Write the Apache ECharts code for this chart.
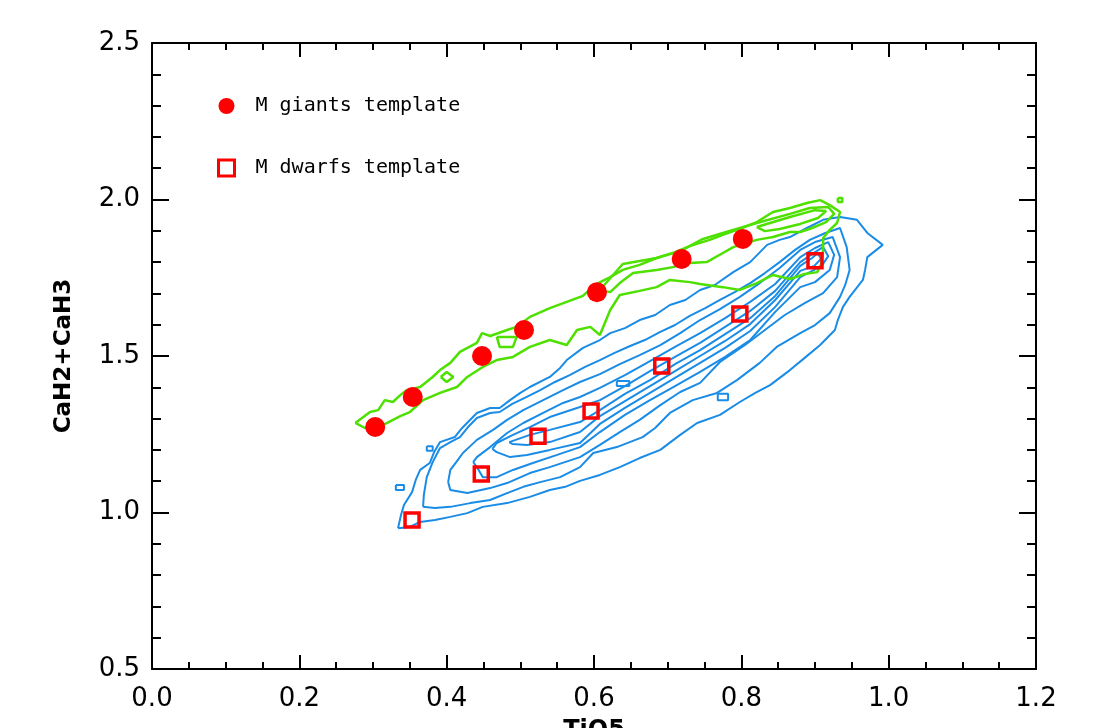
<!DOCTYPE html>
<html>
<head>
<meta charset="utf-8">
<script src="https://cdn.jsdelivr.net/npm/echarts@6/dist/echarts.min.js"></script>
<style>
html,body{margin:0;padding:0;background:#fff;}
#chart{width:1100px;height:728px;}
</style>
</head>
<body>
<div id="chart"></div>
<script>
// ---- tick labels ----
const xTickLabels = ['0.0','0.2','0.4','0.6','0.8','1.0','1.2'];
const yTickLabels = ['0.5','1.0','1.5','2.0','2.5'];

// ---- template points ----
const giantsName = 'M giants template';
const dwarfsName = 'M dwarfs template';
const giantsTiO5 = [0.303, 0.354, 0.448, 0.505, 0.604, 0.719, 0.802];
const giantsCaH  = [1.273, 1.369, 1.500, 1.583, 1.704, 1.810, 1.874];
const dwarfsTiO5 = [0.353, 0.447, 0.524, 0.596, 0.692, 0.798, 0.900];
const dwarfsCaH  = [0.976, 1.123, 1.244, 1.324, 1.468, 1.634, 1.804];

// ---- blue (dwarf) density contours, [TiO5, CaH2+CaH3] ----
const blueLevel1 = [[0.334,0.950],[0.338,0.992],[0.342,1.024],[0.353,1.065],[0.358,1.104],[0.364,1.136],[0.377,1.158],[0.383,1.193],[0.391,1.225],[0.411,1.241],[0.421,1.270],[0.441,1.318],[0.459,1.334],[0.472,1.334],[0.486,1.359],[0.500,1.382],[0.513,1.401],[0.540,1.433],[0.554,1.462],[0.563,1.487],[0.585,1.526],[0.608,1.551],[0.622,1.573],[0.642,1.589],[0.662,1.615],[0.683,1.631],[0.703,1.663],[0.724,1.679],[0.744,1.711],[0.764,1.727],[0.789,1.768],[0.812,1.800],[0.835,1.855],[0.852,1.871],[0.866,1.880],[0.889,1.909],[0.911,1.935],[0.934,1.944],[0.957,1.935],[0.971,1.893],[0.992,1.855],[0.971,1.816],[0.968,1.775],[0.965,1.743],[0.947,1.689],[0.938,1.657],[0.931,1.615],[0.927,1.583],[0.907,1.535],[0.886,1.494],[0.866,1.455],[0.839,1.407],[0.819,1.382],[0.798,1.353],[0.771,1.312],[0.740,1.286],[0.717,1.248],[0.690,1.200],[0.662,1.174],[0.635,1.145],[0.608,1.120],[0.581,1.101],[0.561,1.082],[0.540,1.072],[0.513,1.050],[0.482,1.030],[0.449,1.018],[0.428,0.998],[0.405,0.986],[0.384,0.976],[0.364,0.970],[0.350,0.954],[0.334,0.950]];
const blueLevel2 = [[0.368,1.018],[0.369,1.056],[0.373,1.113],[0.381,1.161],[0.391,1.206],[0.405,1.225],[0.418,1.241],[0.429,1.273],[0.441,1.302],[0.459,1.318],[0.472,1.321],[0.489,1.347],[0.506,1.366],[0.527,1.391],[0.547,1.417],[0.567,1.439],[0.588,1.465],[0.608,1.487],[0.628,1.510],[0.649,1.532],[0.669,1.551],[0.690,1.577],[0.710,1.599],[0.730,1.628],[0.751,1.653],[0.771,1.679],[0.791,1.704],[0.812,1.733],[0.832,1.765],[0.852,1.800],[0.873,1.839],[0.893,1.871],[0.914,1.893],[0.934,1.909],[0.943,1.848],[0.947,1.775],[0.941,1.727],[0.934,1.689],[0.920,1.637],[0.900,1.599],[0.880,1.573],[0.848,1.529],[0.825,1.478],[0.794,1.423],[0.767,1.382],[0.734,1.359],[0.703,1.318],[0.683,1.270],[0.666,1.241],[0.631,1.209],[0.599,1.190],[0.581,1.145],[0.554,1.113],[0.527,1.097],[0.504,1.082],[0.482,1.062],[0.459,1.040],[0.432,1.030],[0.405,1.018],[0.384,1.014],[0.368,1.018]];
const blueLevel3 = [[0.402,1.097],[0.405,1.136],[0.413,1.161],[0.422,1.190],[0.432,1.212],[0.441,1.232],[0.463,1.264],[0.482,1.296],[0.504,1.327],[0.531,1.359],[0.558,1.391],[0.581,1.417],[0.608,1.442],[0.635,1.474],[0.662,1.503],[0.690,1.535],[0.717,1.573],[0.744,1.615],[0.771,1.650],[0.798,1.689],[0.825,1.733],[0.852,1.781],[0.880,1.839],[0.900,1.864],[0.924,1.880],[0.934,1.816],[0.930,1.752],[0.911,1.701],[0.886,1.669],[0.859,1.631],[0.832,1.583],[0.805,1.535],[0.771,1.481],[0.744,1.414],[0.717,1.385],[0.690,1.343],[0.662,1.296],[0.635,1.257],[0.608,1.216],[0.581,1.177],[0.540,1.145],[0.513,1.126],[0.482,1.094],[0.459,1.078],[0.428,1.062],[0.405,1.072],[0.402,1.097]];
const blueLevel4 = [[0.436,1.161],[0.441,1.177],[0.459,1.209],[0.482,1.254],[0.504,1.286],[0.531,1.318],[0.558,1.350],[0.581,1.369],[0.608,1.398],[0.642,1.439],[0.676,1.484],[0.710,1.529],[0.744,1.573],[0.778,1.621],[0.812,1.673],[0.846,1.730],[0.880,1.816],[0.900,1.845],[0.918,1.864],[0.926,1.823],[0.920,1.775],[0.900,1.736],[0.880,1.720],[0.846,1.641],[0.812,1.551],[0.778,1.497],[0.744,1.449],[0.710,1.404],[0.676,1.359],[0.642,1.312],[0.608,1.257],[0.581,1.209],[0.550,1.184],[0.517,1.158],[0.490,1.136],[0.468,1.113],[0.449,1.113],[0.441,1.145],[0.436,1.161]];
const blueLevel5 = [[0.462,1.203],[0.468,1.222],[0.490,1.248],[0.513,1.273],[0.540,1.305],[0.581,1.337],[0.608,1.359],[0.642,1.404],[0.676,1.452],[0.710,1.497],[0.744,1.542],[0.778,1.593],[0.812,1.644],[0.846,1.708],[0.880,1.800],[0.900,1.832],[0.911,1.848],[0.918,1.819],[0.909,1.788],[0.893,1.768],[0.880,1.752],[0.846,1.657],[0.812,1.580],[0.778,1.526],[0.744,1.478],[0.710,1.430],[0.676,1.382],[0.642,1.334],[0.608,1.283],[0.581,1.222],[0.540,1.200],[0.509,1.184],[0.486,1.177],[0.468,1.193],[0.462,1.203]];
const blueLevel6 = [[0.485,1.225],[0.513,1.248],[0.540,1.264],[0.581,1.289],[0.608,1.327],[0.642,1.379],[0.676,1.423],[0.710,1.474],[0.744,1.519],[0.778,1.570],[0.812,1.621],[0.846,1.692],[0.880,1.788],[0.896,1.813],[0.904,1.829],[0.908,1.810],[0.899,1.788],[0.880,1.772],[0.846,1.679],[0.812,1.602],[0.778,1.548],[0.744,1.500],[0.710,1.452],[0.676,1.404],[0.642,1.356],[0.608,1.308],[0.581,1.257],[0.540,1.225],[0.509,1.216],[0.489,1.219],[0.485,1.225]];
const blueIsland1 = [[0.331,1.088],[0.342,1.088],[0.342,1.072],[0.331,1.072],[0.331,1.088]];
const blueIsland2 = [[0.373,1.212],[0.381,1.212],[0.381,1.197],[0.373,1.197],[0.373,1.212]];
const blueIsland3 = [[0.631,1.420],[0.648,1.420],[0.648,1.404],[0.631,1.404],[0.631,1.420]];
const blueIsland4 = [[0.768,1.379],[0.782,1.379],[0.782,1.359],[0.768,1.359],[0.768,1.379]];

// ---- green (giant) density contours ----
const greenLevel1 = [[0.276,1.286],[0.296,1.321],[0.307,1.327],[0.316,1.359],[0.327,1.353],[0.337,1.375],[0.346,1.391],[0.364,1.401],[0.381,1.433],[0.391,1.455],[0.405,1.478],[0.418,1.513],[0.441,1.542],[0.448,1.573],[0.459,1.564],[0.482,1.583],[0.495,1.593],[0.513,1.625],[0.540,1.653],[0.563,1.673],[0.585,1.692],[0.601,1.727],[0.622,1.752],[0.639,1.775],[0.662,1.791],[0.685,1.813],[0.710,1.832],[0.730,1.851],[0.757,1.871],[0.775,1.887],[0.798,1.906],[0.821,1.928],[0.843,1.960],[0.866,1.973],[0.889,1.989],[0.907,1.998],[0.920,1.982],[0.934,1.960],[0.930,1.925],[0.920,1.903],[0.911,1.877],[0.911,1.839],[0.909,1.797],[0.903,1.768],[0.886,1.762],[0.866,1.746],[0.843,1.759],[0.821,1.733],[0.798,1.711],[0.775,1.720],[0.744,1.730],[0.730,1.736],[0.703,1.743],[0.685,1.720],[0.662,1.708],[0.635,1.695],[0.622,1.647],[0.608,1.567],[0.595,1.593],[0.577,1.583],[0.563,1.535],[0.540,1.551],[0.513,1.529],[0.490,1.497],[0.468,1.487],[0.449,1.465],[0.428,1.433],[0.414,1.401],[0.391,1.382],[0.368,1.359],[0.350,1.321],[0.337,1.308],[0.314,1.280],[0.289,1.270],[0.276,1.286]];
const greenLevel2 = [[0.608,1.711],[0.639,1.794],[0.685,1.813],[0.717,1.835],[0.748,1.874],[0.775,1.893],[0.798,1.909],[0.821,1.925],[0.866,1.954],[0.893,1.973],[0.918,1.976],[0.926,1.954],[0.915,1.928],[0.896,1.909],[0.880,1.896],[0.866,1.896],[0.843,1.880],[0.821,1.871],[0.789,1.848],[0.775,1.829],[0.753,1.800],[0.730,1.797],[0.707,1.784],[0.685,1.775],[0.653,1.765],[0.635,1.733],[0.622,1.704],[0.608,1.711]];
const greenLevel3 = [[0.821,1.912],[0.866,1.944],[0.900,1.966],[0.915,1.963],[0.904,1.941],[0.880,1.922],[0.852,1.906],[0.832,1.899],[0.821,1.912]];
const greenIsland1 = [[0.392,1.433],[0.400,1.449],[0.409,1.433],[0.400,1.417],[0.392,1.433]];
const greenIsland2 = [[0.468,1.561],[0.495,1.561],[0.490,1.529],[0.472,1.529],[0.468,1.561]];
const greenIsland3 = [[0.931,2.005],[0.937,2.005],[0.937,1.992],[0.931,1.992],[0.931,2.005]];

const blueContours = [blueLevel1, blueLevel2, blueLevel3, blueLevel4, blueLevel5, blueLevel6, blueIsland1, blueIsland2, blueIsland3, blueIsland4];
const greenContours = [greenLevel1, greenLevel2, greenLevel3, greenIsland1, greenIsland2, greenIsland3];

const BLUE = '#1a8ce6';
const GREEN = '#4ee000';
const RED = '#ff0000';

function contourSeries(pts, color, w) {
  return {
    type: 'line', data: pts, symbol: 'none', showSymbol: false, smooth: false,
    lineStyle: { color: color, width: w }, silent: true, z: 2, clip: true
  };
}

const series = [];
blueContours.forEach(c => series.push(contourSeries(c, BLUE, 2)));
greenContours.forEach(c => series.push(contourSeries(c, GREEN, 2.5)));
series.push({
  name: giantsName, type: 'scatter', symbol: 'circle', symbolSize: 20,
  data: giantsTiO5.map((x, i) => [x, giantsCaH[i]]),
  itemStyle: { color: RED, opacity: 1 }, z: 5
});
series.push({
  name: dwarfsName, type: 'scatter', symbol: 'rect', symbolSize: 14,
  data: dwarfsTiO5.map((x, i) => [x, dwarfsCaH[i]]),
  itemStyle: { color: 'rgba(255,255,255,0)', borderColor: RED, borderWidth: 3.5, opacity: 1 }, z: 5
});

const axisLine = { show: true, onZero: false, lineStyle: { color: '#000', width: 2 } };
const labelFont = '"DejaVu Sans", sans-serif';
function xAx(pos, showLabel) {
  return {
    type: 'value', position: pos, min: 0, max: 1.2, interval: 0.2,
    axisLine: axisLine,
    axisTick: { show: true, inside: true, length: 14, lineStyle: { color: '#000', width: 2 } },
    minorTick: { show: true, splitNumber: 4, length: 7, lineStyle: { color: '#000', width: 2 } },
    splitLine: { show: false }, minorSplitLine: { show: false },
    axisLabel: {
      show: showLabel, margin: 17, color: '#000', fontSize: 26,
      fontFamily: labelFont,
      formatter: v => xTickLabels[Math.round(v / 0.2)]
    },
    name: showLabel ? 'TiO5' : '', nameLocation: 'middle', nameGap: 50,
    nameTextStyle: { color: '#000', fontSize: 24, fontWeight: 'bold', fontFamily: labelFont }
  };
}
function yAx(pos, showLabel) {
  return {
    type: 'value', position: pos, min: 0.5, max: 2.5, interval: 0.5,
    axisLine: axisLine,
    axisTick: { show: true, inside: true, length: 17, lineStyle: { color: '#000', width: 2 } },
    minorTick: { show: true, splitNumber: 5, length: 9, lineStyle: { color: '#000', width: 2 } },
    splitLine: { show: false }, minorSplitLine: { show: false },
    axisLabel: {
      show: showLabel, margin: 12, color: '#000', fontSize: 26,
      fontFamily: labelFont,
      formatter: v => yTickLabels[Math.round((v - 0.5) / 0.5)]
    },
    name: showLabel ? 'CaH2+CaH3' : '', nameLocation: 'middle', nameGap: 76, nameRotate: 90,
    nameTextStyle: { color: '#000', fontSize: 23, fontWeight: 'bold', fontFamily: labelFont }
  };
}

const chart = echarts.init(document.getElementById('chart'), null, { renderer: 'canvas' });
chart.setOption({
  animation: false,
  backgroundColor: '#fff',
  grid: { left: 152, right: 64, top: 43, bottom: 59, containLabel: false, outerBoundsMode: 'none' },
  xAxis: [xAx('bottom', true), xAx('top', false)],
  yAxis: [yAx('left', true), yAx('right', false)],
  legend: {
    show: true, orient: 'vertical', left: 212, top: 91,
    itemWidth: 16, itemHeight: 16, itemGap: 42, symbolKeepAspect: true,
    data: [
      { name: giantsName },
      { name: dwarfsName, itemStyle: { borderWidth: 3 } }
    ],
    textStyle: { color: '#000', fontSize: 20, fontFamily: '"DejaVu Sans Mono", monospace', padding: [0, 0, 0, 16] },
    selectedMode: false
  },
  series: series
});
</script>
</body>
</html>
